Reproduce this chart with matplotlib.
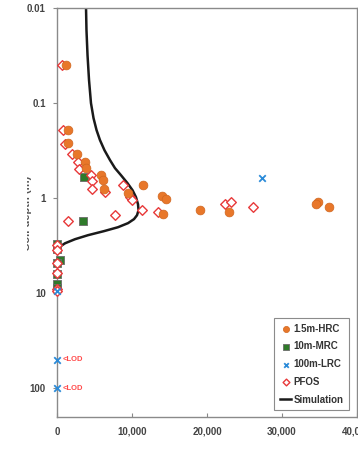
import matplotlib
matplotlib.use("Agg")
import matplotlib.pyplot as plt
from matplotlib.transforms import Bbox, TransformedBbox
from matplotlib.ticker import FuncFormatter, FixedLocator

plt.rcParams['font.family'] = ['Liberation Sans', 'DejaVu Sans']
plt.rcParams['font.weight'] = 'bold'

# concentration vs depth
hrc_conc = [1200, 1430, 1500, 2630, 3730, 3870, 5830, 6090, 6270, 11430, 9430,
            14040, 14490, 14090, 19070, 22890, 34840, 34530, 36230]
hrc_depth = [0.04, 0.192, 0.265, 0.344, 0.415, 0.486, 0.564, 0.648, 0.803, 0.718,
             0.879, 0.946, 1.025, 1.47, 1.34, 1.40, 1.09, 1.16, 1.25]

mrc_conc = [3600, 3430, 0, 0, 400, 0, 0, 0, 0]
mrc_depth = [0.597, 1.75, 3.0, 3.4, 4.5, 4.83, 6.2, 7.9, 8.9]

lrc_conc = [27370, 0, 0, 0]
lrc_depth = [0.611, 9.5, 50, 100]
lod_depth = [50, 100]

pfos_conc = [630, 760, 1070, 1960, 2840, 2930, 4490, 4630, 4630, 6360, 8760, 9730,
             10040, 11290, 7730, 13510, 1430, 22400, 23160, 26170,
             0, 0, 0, 0, 0, 0]
pfos_depth = [0.04, 0.192, 0.27, 0.344, 0.421, 0.496, 0.564, 0.662, 0.803, 0.865,
              0.729, 0.968, 1.05, 1.34, 1.49, 1.40, 1.73, 1.16, 1.09, 1.25,
              3.12, 3.5, 4.83, 6.16, 8.93, 9.5]

sim_depth = [0.01, 0.0171, 0.0313, 0.0573, 0.1, 0.144, 0.192, 0.245, 0.313, 0.398,
             0.483, 0.573, 0.695, 0.824, 0.975, 1.156, 1.337, 1.51, 1.66, 1.83,
             2.02, 2.22, 2.45, 2.70, 2.98, 3.28, 3.53]
sim_conc = [3870, 3930, 4070, 4270, 4530, 4870, 5270, 5730, 6330, 7070,
            7730, 8530, 9400, 10070, 10530, 10800, 10870, 10670, 10270, 9470,
            8130, 6270, 4130, 2400, 1070, 270, 0]

y_ticks = [0.01, 0.1, 1, 10, 100]
x_ticks = [0, 10000, 20000, 30000, 40000]

fig = plt.figure(figsize=(3.58, 4.65), dpi=100)
ax = fig.add_axes([57 / 358, 48 / 465, 300 / 358, 409 / 465])

ax.plot(sim_conc, sim_depth, color='#1a1a1a', lw=1.8, zorder=2, label='Simulation',
        solid_joinstyle='round')
ax.scatter(mrc_conc, mrc_depth, marker='s', s=32, color='#2f7a2a', edgecolor='#6b6b6b',
           linewidths=0.6, zorder=3, clip_on=False, label='10m-MRC')
ax.scatter(pfos_conc, pfos_depth, marker='D', s=24, facecolor='white', edgecolor='#e8393a',
           linewidths=1.0, zorder=4, clip_on=False, label='PFOS')
ax.scatter(hrc_conc, hrc_depth, marker='o', s=40, color='#e8772a', edgecolor='#d0661e',
           linewidths=0.5, zorder=5, clip_on=False, label='1.5m-HRC')
ax.scatter(lrc_conc, lrc_depth, marker='x', s=22, color='#2a8ad8', linewidths=1.3,
           zorder=6, clip_on=False, label='100m-LRC')

for d in lod_depth:
    ax.annotate('<LOD', (0, d), xytext=(4, 0), textcoords='offset points',
                va='center', ha='left', fontsize=5.5, color='#ff4b4b', fontweight='bold')

ax.set_yscale('log')
ax.set_ylim(200, 0.01)
ax.set_xlim(0, 40000)
ax.yaxis.set_major_locator(FixedLocator(y_ticks))
ax.yaxis.set_minor_locator(FixedLocator([]))
ax.yaxis.set_major_formatter(FuncFormatter(lambda v, p: f'{v:g}'))
ax.xaxis.set_major_locator(FixedLocator(x_ticks))
ax.xaxis.set_major_formatter(FuncFormatter(lambda v, p: f'{int(v):,}'))

ax.tick_params(axis='y', direction='out', length=3, width=0.8, color='#888888',
               labelsize=7, labelcolor='#444444', pad=5)
ax.tick_params(axis='x', direction='in', length=3, width=0.8, color='#888888',
               labelsize=7, labelcolor='#444444', pad=7)
for t in ax.get_xticklabels() + ax.get_yticklabels():
    t.set_fontweight('bold')
    t.set_clip_on(False)
for sp in ax.spines.values():
    sp.set_color('#8a8a8a')
    sp.set_linewidth(1.0)

handles, labels = ax.get_legend_handles_labels()
order = ['1.5m-HRC', '10m-MRC', '100m-LRC', 'PFOS', 'Simulation']
hl = dict(zip(labels, handles))
leg = ax.legend([hl[k] for k in order], order, loc='lower right',
                bbox_to_anchor=(0.99, 0.005), fontsize=7, frameon=True, fancybox=False,
                edgecolor='#6e6e6e', handlelength=1.2, handletextpad=0.25,
                borderpad=0.55, labelspacing=0.8, markerscale=0.7)
leg.get_frame().set_linewidth(0.8)
for t in leg.get_texts():
    t.set_color('#333333')
    t.set_fontweight('bold')

# depth label, trimmed at the left edge
lab = fig.text(26.5 / 358, (465 - 213) / 465, 'Soil depth (m)', rotation=90,
               ha='center', va='center', fontsize=8, fontweight='bold', color='#555555')
lab.set_clip_box(TransformedBbox(Bbox([[0.27, 0], [0.45, 4.65]]), fig.dpi_scale_trans))
lab.set_clip_on(True)

fig.savefig('out.png', dpi=100)
